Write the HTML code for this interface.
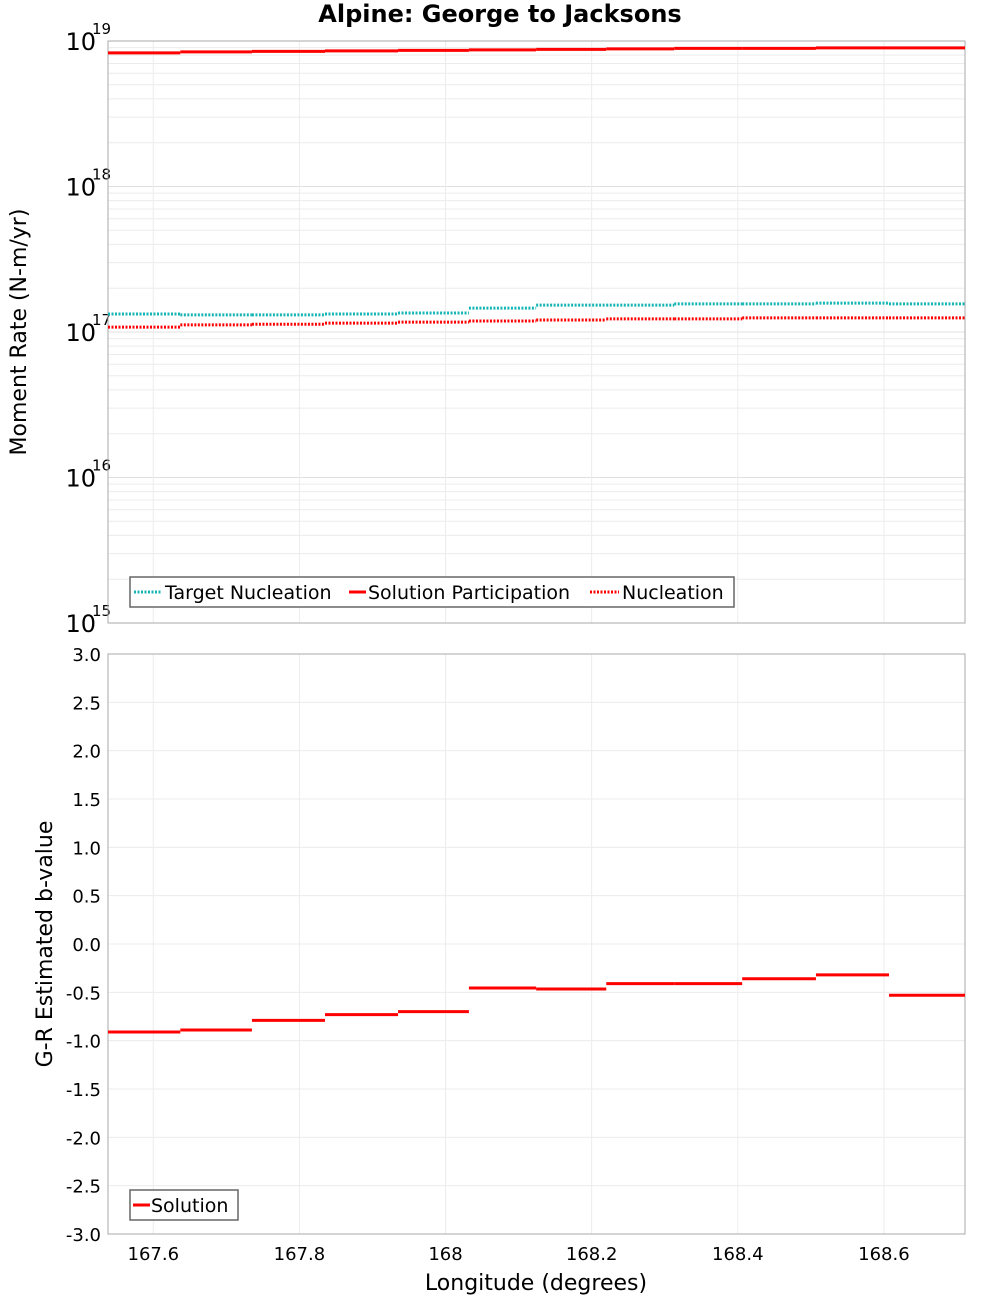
<!DOCTYPE html>
<html><head><meta charset="utf-8"><style>
body{margin:0;background:#fff;font-family:"DejaVu Sans","Liberation Sans",sans-serif}
svg text{font-family:"DejaVu Sans","Liberation Sans",sans-serif}
</style></head><body>
<svg id="chart" width="1000" height="1300" viewBox="0 0 1000 1300" xmlns="http://www.w3.org/2000/svg">
<text x="500" y="22" text-anchor="middle" font-size="24" font-weight="bold">Alpine: George to Jacksons</text>
<g id="topPanel"></g><g id="botPanel"></g>
</svg>
<script>
const edges=[167.538,167.637,167.735,167.835,167.935,168.032,168.124,168.220,168.313,168.406,168.507,168.607,168.711];
const targetNucleation=[1.33e17,1.31e17,1.31e17,1.33e17,1.35e17,1.46e17,1.53e17,1.53e17,1.56e17,1.56e17,1.58e17,1.56e17];
const solutionParticipation=[8.28e18,8.42e18,8.49e18,8.55e18,8.62e18,8.69e18,8.76e18,8.83e18,8.90e18,8.90e18,8.97e18,8.97e18];
const nucleation=[1.08e17,1.12e17,1.13e17,1.15e17,1.17e17,1.19e17,1.21e17,1.23e17,1.23e17,1.25e17,1.25e17,1.25e17];
const bValues=[-0.91,-0.89,-0.79,-0.73,-0.70,-0.455,-0.465,-0.41,-0.41,-0.36,-0.32,-0.53];
const xTicks=[167.6,167.8,168,168.2,168.4,168.6];
const xTickLabels=["167.6","167.8","168","168.2","168.4","168.6"];
const logTicks=[15,16,17,18,19];
const bTicks=[3,2.5,2,1.5,1,0.5,0,-0.5,-1,-1.5,-2,-2.5,-3];
const bTickLabels=["3.0","2.5","2.0","1.5","1.0","0.5","0.0","-0.5","-1.0","-1.5","-2.0","-2.5","-3.0"];

const NS="http://www.w3.org/2000/svg";
const L=108,R=965,T1=41,B1=623,T2=654,B2=1234;
const xMin=167.538,xMax=168.711;
const X=v=>L+(v-xMin)/(xMax-xMin)*(R-L);
const Y1=v=>B1-(Math.log10(v)-15)/4*(B1-T1);
const Y2=v=>B2-(v+3)/6*(B2-T2);
function mk(p,tag,at,txt){const e=document.createElementNS(NS,tag);for(const k in at)e.setAttribute(k,at[k]);if(txt!==undefined)e.textContent=txt;p.appendChild(e);return e;}
const topG=document.getElementById('topPanel'),botG=document.getElementById('botPanel');

for(let d=15;d<19;d++){for(let m=2;m<=9;m++){const y=Y1(m*Math.pow(10,d));
const g=mk(topG,'line',{x1:L,x2:R,y1:y,y2:y,stroke:'#ececec','stroke-width':1});

}}
logTicks.forEach(t=>{const y=Y1(Math.pow(10,t));
const g=mk(topG,'line',{x1:L,x2:R,y1:y,y2:y,stroke:'#e0e0e0','stroke-width':1});


const tx=mk(topG,'text',{x:L-12,y:y+9,'text-anchor':'end','font-size':24},'10');


const sp=mk(topG,'text',{x:L-16,y:y-7,'font-size':15},String(t));

});
xTicks.forEach(t=>{[[T1,B1,topG],[T2,B2,botG]].forEach(([a,b,p])=>{
const g=mk(p,'line',{x1:X(t),x2:X(t),y1:a,y2:b,stroke:'#ececec','stroke-width':1});

});});
const f1=mk(topG,'rect',{x:L,y:T1,width:R-L,height:B1-T1,fill:'none',stroke:'#aaa'});



function steps(p,arr,Yf,color,dash,w,name){
 arr.forEach((v,i)=>{const l=mk(p,'line',{x1:X(edges[i]),x2:X(edges[i+1]),y1:Yf(v),y2:Yf(v),stroke:color,'stroke-width':w});
 if(dash)l.setAttribute('stroke-dasharray',dash);
 
 });
}
steps(topG,targetNucleation,Y1,'#16b5b5','2 1.5',3,'target-nucleation');
steps(topG,nucleation,Y1,'#ff0000','2 1.5',3,'nucleation');
steps(topG,solutionParticipation,Y1,'#ff0000',null,3,'solution-participation');

const lg=mk(topG,'g',{});


mk(lg,'rect',{x:130,y:577,width:604,height:30,fill:'#fff',stroke:'#666','stroke-width':1.5});
mk(lg,'line',{x1:134,x2:161,y1:592,y2:592,stroke:'#16b5b5','stroke-width':3,'stroke-dasharray':'2 1.5'});
mk(lg,'text',{x:165,y:599,'font-size':19},'Target Nucleation');
mk(lg,'line',{x1:349,x2:366,y1:592,y2:592,stroke:'#ff0000','stroke-width':3});
mk(lg,'text',{x:368,y:599,'font-size':19},'Solution Participation');
mk(lg,'line',{x1:590,x2:619,y1:592,y2:592,stroke:'#ff0000','stroke-width':3,'stroke-dasharray':'2 1.5'});
mk(lg,'text',{x:622,y:599,'font-size':19},'Nucleation');
const yt1=mk(topG,'text',{x:0,y:0,'font-size':22,'text-anchor':'middle',transform:'translate(26,332) rotate(-90)'},'Moment Rate (N-m/yr)');



bTicks.forEach((t,i)=>{const y=Y2(t);
const g=mk(botG,'line',{x1:L,x2:R,y1:y,y2:y,stroke:'#ececec','stroke-width':1});


const tx=mk(botG,'text',{x:L-7,y:y+7,'text-anchor':'end','font-size':18},bTickLabels[i]);

});
const f2=mk(botG,'rect',{x:L,y:T2,width:R-L,height:B2-T2,fill:'none',stroke:'#aaa'});


steps(botG,bValues,Y2,'#ff0000',null,3,'solution-b-value');
xTicks.forEach((t,i)=>{const tx=mk(botG,'text',{x:X(t),y:1260,'text-anchor':'middle','font-size':18},xTickLabels[i]);

});
const lg2=mk(botG,'g',{});


mk(lg2,'rect',{x:130,y:1190,width:108,height:30,fill:'#fff',stroke:'#666','stroke-width':1.5});
mk(lg2,'line',{x1:133,x2:150,y1:1205,y2:1205,stroke:'#ff0000','stroke-width':3});
mk(lg2,'text',{x:151,y:1212,'font-size':19},'Solution');
const yt2=mk(botG,'text',{x:0,y:0,'font-size':22,'text-anchor':'middle',transform:'translate(52,944) rotate(-90)'},'G-R Estimated b-value');


const xt=mk(botG,'text',{x:536,y:1290,'font-size':22,'text-anchor':'middle'},'Longitude (degrees)');


</script>
</body></html>
